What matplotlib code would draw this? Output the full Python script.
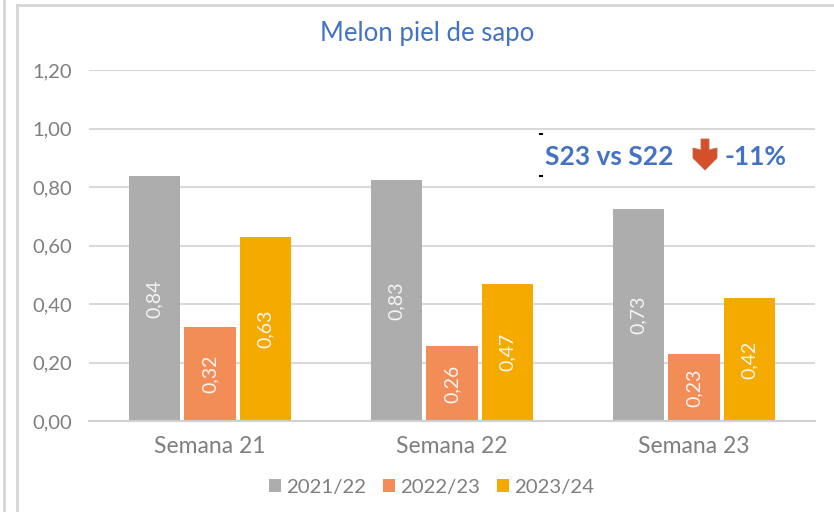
"""Melon piel de sapo: weekly bars per season."""

import matplotlib

matplotlib.use("Agg")
import matplotlib.pyplot as plt
import numpy as np
from matplotlib.lines import Line2D
from matplotlib.patches import Polygon

plt.rcParams["font.family"] = ["Lato", "DejaVu Sans"]

weeks = ["Semana 21", "Semana 22", "Semana 23"]
seasons = ["2021/22", "2022/23", "2023/24"]
v_2122 = [0.836, 0.8251, 0.726]
v_2223 = [0.322, 0.256, 0.228]
v_2324 = [0.628, 0.47, 0.42]
y_ticks = [0.0, 0.2, 0.4, 0.6, 0.8, 1.0, 1.2]

COLORS = ["#ADADAD", "#F38D58", "#F5AA00"]
GREY = "#7F7F7F"
W, H = 834, 512


def fx(px):
    return px / W


def fy(px):
    return 1 - px / H


def comma(v):
    return f"{v:.2f}".replace(".", ",")


fig = plt.figure(figsize=(W / 100, H / 100), dpi=100)
ax = fig.add_axes([fx(89), fy(421), (815 - 89) / W, (421 - 70) / H])

x = np.arange(len(weeks))
step = 0.229
width = 0.211
for i, (vals, label, color) in enumerate(zip([v_2122, v_2223, v_2324], seasons, COLORS)):
    bars = ax.bar(x + (i - 1) * step, vals, width, color=color, label=label, zorder=3)
    for bar, v in zip(bars, vals):
        ax.text(
            bar.get_x() + bar.get_width() / 2, v / 2, comma(v),
            rotation=90, ha="center", va="center",
            color="#F4F4F4", fontsize=14, zorder=4,
        )

ax.set_xlim(-0.5, 2.5)
ax.set_ylim(0, 1.2)
ax.set_yticks(y_ticks)
ax.set_yticklabels([comma(t) for t in y_ticks], fontsize=14.5, color=GREY)
ax.set_xticks(x)
ax.set_xticklabels(weeks, fontsize=16.5, color=GREY)
ax.tick_params(axis="both", length=0)
ax.tick_params(axis="x", pad=11)
ax.tick_params(axis="y", pad=12)
ax.grid(True, axis="y", color="#D9D9D9", linewidth=1.5, zorder=0)
for name in ("top", "right", "left"):
    ax.spines[name].set_visible(False)
ax.spines["bottom"].set_color("#D0D0D0")
ax.spines["bottom"].set_linewidth(1.5)
ax.spines["bottom"].set_zorder(5)

fig.text(fx(427), fy(33), "Melon piel de sapo", fontsize=18.5, color="#4472C4", ha="center", va="center")

fig.text(fx(545), fy(157), "S23 vs S22", fontsize=19, fontweight="bold", color="#4472C4", ha="left", va="center")
fig.text(fx(724), fy(157), "-11%", fontsize=19, fontweight="bold", color="#4472C4", ha="left", va="center")

# down arrow next to the percentage
arrow_px = [(701, 139), (709, 139), (709, 150), (717, 148), (717, 158), (705, 170), (693, 158), (693, 148), (701, 150)]
fig.add_artist(Polygon(
    [(fx(a), fy(b)) for a, b in arrow_px], closed=True, transform=fig.transFigure,
    facecolor="#D4502A", edgecolor="#C8684A", linewidth=0.6,
))

# selection handles left over from the text box
for py in (134, 176):
    fig.add_artist(Line2D([fx(540), fx(542)], [fy(py), fy(py)], color="black", linewidth=1.5))

# screenshot frame lines
frame = "#D6D6D6"
fig.add_artist(Line2D([fx(16.5), fx(834)], [fy(5), fy(5)], color=frame, linewidth=2))
fig.add_artist(Line2D([fx(16.5), fx(16.5)], [fy(5), fy(512)], color=frame, linewidth=2))
fig.add_artist(Line2D([fx(4), fx(4)], [fy(0), fy(512)], color=frame, linewidth=2))

ax.legend(
    loc="center", bbox_to_anchor=(fx(431.5), fy(487)), bbox_transform=fig.transFigure,
    ncol=3, frameon=False, fontsize=14.7, labelcolor=GREY,
    handlelength=0.58, handleheight=0.6, handletextpad=0.25, columnspacing=0.85,
)

fig.savefig("out.png", dpi=100)
